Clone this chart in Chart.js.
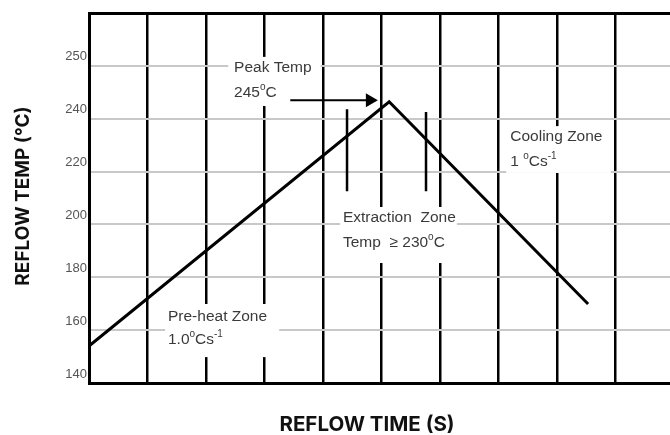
<!DOCTYPE html>
<html>
<head>
<meta charset="utf-8">
<script src="https://cdn.jsdelivr.net/npm/chart.js@4.4.1/dist/chart.umd.min.js"></script>
<style>
  html, body { margin: 0; padding: 0; background: #fff; overflow: hidden; }
  canvas { display: block; }
</style>
</head>
<body>
<canvas id="reflowChart" width="670" height="435"></canvas>
<script>
// reflow profile (x in grid divisions, y in the axis' own units)
const profileTime = [0, 5.13, 8.53];
const profileTemp = [154, 246.4, 169.9];

// short markers either side of the peak (extraction zone)
const markerTime = [4.41, 5.76];
const markerTop = [243.6, 242.5];
const markerBottom = [212.6, 212.6];

// arrow pointing at the peak
const arrowTime = [3.44, 4.80];
const arrowTemp = [247, 247];

// tick labels as printed on the chart (the top step is only 10)
const yTickLabels = ['140', '160', '180', '200', '220', '240', '250', ''];

// text notes: '^' toggles superscript
const notes = [
    { lines: ['Peak Temp', '245^o^C'], x: 2.48, y: [259.2, 249.7], box: [2.38, 3.96, 263.4, 244.8] },
    { lines: ['Extraction  Zone', 'Temp  \u2265 230^o^C'], x: 4.34, y: [202.4, 193.0], box: [4.29, 6.29, 206.6, 185.4] },
    { lines: ['Pre-heat Zone', '1.0^o^Cs^-1'], x: 1.35, y: [165.0, 156.3], box: [1.30, 3.25, 169.9, 149.8] },
    { lines: ['Cooling Zone', '1 ^o^Cs^-1'], x: 7.20, y: [233.1, 223.6], box: [7.13, 8.92, 237.2, 219.5] }
];

function toPoints(xs, ys) {
    return xs.map((v, i) => ({ x: v, y: ys[i] }));
}

function drawRich(ctx, str, x, y) {
    let cx = x;
    str.split('^').forEach((part, i) => {
        const sup = i % 2 === 1;
        ctx.font = sup ? '10px "Liberation Sans"' : '15.5px "Liberation Sans"';
        ctx.fillText(part, cx, sup ? y - 6 : y);
        cx += ctx.measureText(part).width;
    });
}

const notesPlugin = {
    id: 'notes',
    beforeDatasetsDraw(chart) {
        const { ctx, scales: { x, y } } = chart;
        ctx.save();
        notes.forEach(n => {
            const x0 = x.getPixelForValue(n.box[0]);
            const x1 = x.getPixelForValue(n.box[1]);
            const y0 = y.getPixelForValue(n.box[2]);
            const y1 = y.getPixelForValue(n.box[3]);
            ctx.fillStyle = '#fff';
            ctx.fillRect(x0, y0, x1 - x0, y1 - y0);
            ctx.fillStyle = '#3a3a3a';
            ctx.textAlign = 'left';
            ctx.textBaseline = 'middle';
            n.lines.forEach((line, i) => {
                drawRich(ctx, line, x.getPixelForValue(n.x), y.getPixelForValue(n.y[i]));
            });
        });
        ctx.restore();
    },
    afterDraw(chart) {
        // axis titles
        const ctx = chart.ctx;
        ctx.save();
        ctx.fillStyle = '#111';
        ctx.textAlign = 'center';
        ctx.textBaseline = 'middle';
        ctx.font = 'bold 20.5px Inter';
        ctx.fillText('REFLOW TIME (S)', 367, 425);
        ctx.font = 'bold 19px Inter';
        ctx.translate(23, 196);
        ctx.rotate(-Math.PI / 2);
        ctx.fillText('REFLOW TEMP (\u00B0C)', 0, 0);
        ctx.restore();
    }
};

const markerStyle = { borderColor: '#000', borderWidth: 2.5, pointRadius: 0 };

new Chart(document.getElementById('reflowChart'), {
    type: 'line',
    data: {
        datasets: [
            {
                data: toPoints(profileTime, profileTemp),
                borderColor: '#000',
                borderWidth: 3,
                borderJoinStyle: 'miter',
                pointRadius: 0
            },
            { data: toPoints([markerTime[0], markerTime[0]], [markerTop[0], markerBottom[0]]), ...markerStyle },
            { data: toPoints([markerTime[1], markerTime[1]], [markerTop[1], markerBottom[1]]), ...markerStyle },
            {
                data: toPoints(arrowTime, arrowTemp),
                borderColor: '#000',
                borderWidth: 2,
                pointRadius: [0, 8],
                pointStyle: 'triangle',
                rotation: 90,
                pointBackgroundColor: '#000',
                pointBorderWidth: 0
            }
        ]
    },
    options: {
        responsive: false,
        animation: false,
        layout: { autoPadding: false, padding: { top: 13, right: 0, left: 0, bottom: 0 } },
        plugins: {
            legend: { display: false },
            tooltip: { enabled: false }
        },
        scales: {
            x: {
                type: 'linear',
                min: 0,
                max: 9.93,
                ticks: { display: false, stepSize: 1, includeBounds: false },
                grid: { color: '#000', lineWidth: 2.5, drawTicks: false },
                border: { color: '#000', width: 3 },
                afterFit(scale) { scale.height = 52; }
            },
            y: {
                min: 140,
                max: 280,
                ticks: {
                    stepSize: 20,
                    color: '#555',
                    font: { family: 'Liberation Sans', size: 13 },
                    padding: 2,
                    labelOffset: -9,
                    callback: (v, i) => yTickLabels[i]
                },
                grid: {
                    color: c => c.index === yTickLabels.length - 1 ? '#000' : '#c8c8c8',
                    lineWidth: c => c.index === yTickLabels.length - 1 ? 3 : 2,
                    drawTicks: false
                },
                border: { color: '#000', width: 3 },
                afterFit(scale) { scale.width = 89; }
            }
        }
    },
    plugins: [notesPlugin]
});
</script>
</body>
</html>
